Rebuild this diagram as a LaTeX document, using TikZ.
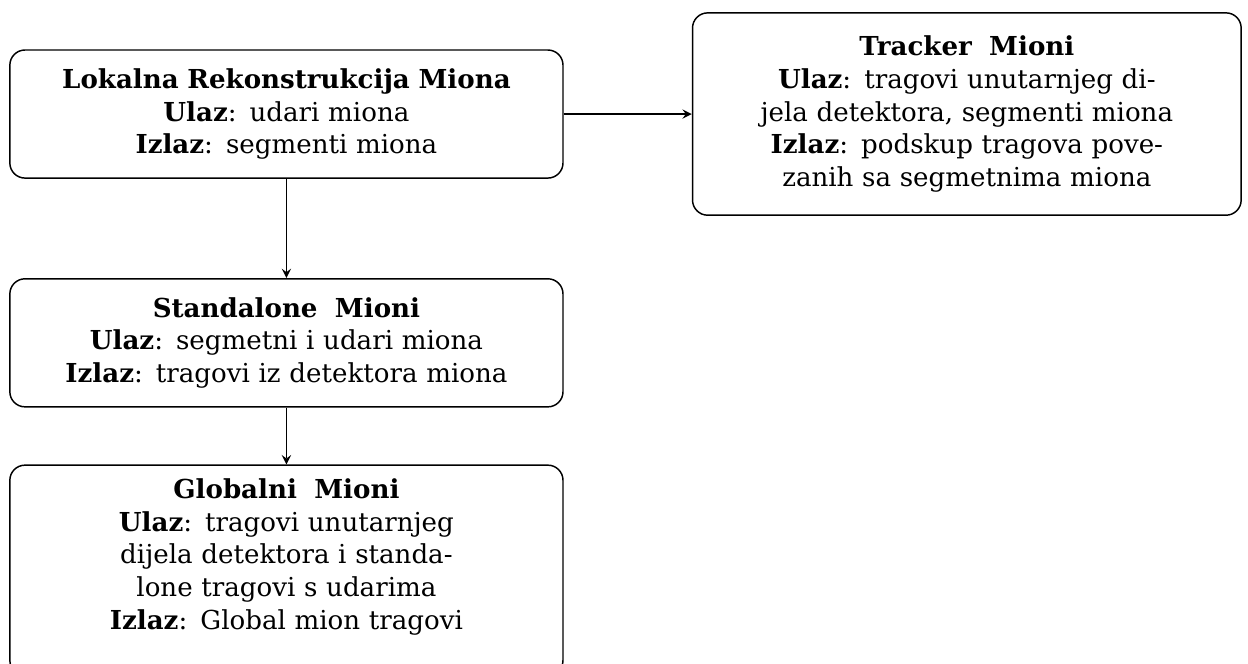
\documentclass[tikz,border=0pt]{standalone}
\usepackage{fontspec}
\setmainfont{DejaVu Serif}[Scale=0.98]
\usetikzlibrary{positioning,arrows}

\tikzset{mionbox/.style={draw, line width=0.55pt, rounded corners=2mm, align=center, text width=7.1cm, minimum width=7.3cm, inner sep=2pt, font=\fontsize{10}{12.3}\selectfont}}

\begin{document}
\begin{tikzpicture}[line width=0.55pt]
\useasboundingbox (0,0) rectangle (16.47,-8.75);

\node (A) at (3.78,-1.505) [mionbox, minimum height=1.69cm]{\textbf{Lokalna Rekonstrukcija Miona}\\
\textbf{Ulaz}: udari miona\\
\textbf{Izlaz}: segmenti miona};

\node (B) [mionbox, right=1.69cm of A, minimum width=7.22cm, minimum height=2.67cm]{\textbf{Tracker\ \ Mioni}\\
\textbf{Ulaz}: tragovi unutarnjeg di-\\
jela detektora, segmenti miona\\
\textbf{Izlaz}: podskup tragova pove-\\
zanih sa segmetnima miona};

\node (C) [mionbox, below=1.31cm of A, minimum height=1.69cm]{\textbf{Standalone\ \ Mioni}\\
\textbf{Ulaz}: segmetni i udari miona\\
\textbf{Izlaz}: tragovi iz detektora miona};

% box runs past the bottom edge
\node (D) [mionbox, below=0.75cm of C, inner ysep=5pt]{\textbf{Globalni\ \ Mioni}\\
\textbf{Ulaz}: tragovi unutarnjeg\\
dijela detektora i standa-\\
lone tragovi s udarima\\
\textbf{Izlaz}: Global mion tragovi\\
\mbox{}};

\draw [-stealth] (A) -- (B);
\draw [-stealth] (A) -- (C);
\draw [-stealth] (C) -- (D);

\end{tikzpicture}
\end{document}
